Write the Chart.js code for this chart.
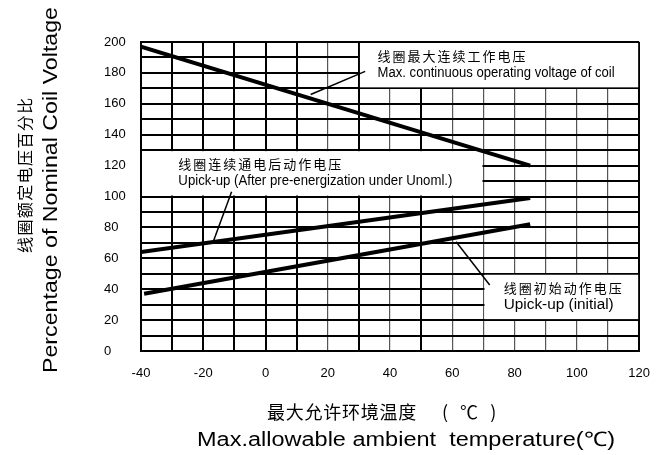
<!DOCTYPE html>
<html>
<head>
<meta charset="utf-8">
<script src="https://cdn.jsdelivr.net/npm/chart.js@4/dist/chart.umd.min.js"></script>
<style>
  html, body { margin: 0; padding: 0; background: #fff; }
</style>
</head>
<body>
<canvas id="myChart" width="665" height="455"></canvas>
<script>
// tick labels
const tempTicks = [-40, -20, 0, 20, 40, 60, 80, 100, 120];
const voltTicks = [0, 20, 40, 60, 80, 100, 120, 140, 160, 180, 200];

// curves
const maxTemp = [-40, 85];
const maxVolt = [197, 120];
const afterTemp = [-40, 85];
const afterVolt = [64, 99];
const initTemp = [-39, 85];
const initVolt = [37, 82];

// leader lines from the curves to their labels
const maxLeadTemp = [14.5, 32];
const maxLeadVolt = [166, 181];
const afterLeadTemp = [-16.8, -10.9];
const afterLeadVolt = [70.7, 103];
const initLeadTemp = [61.2, 72];
const initLeadVolt = [70.7, 42.7];

// label boxes
const boxNamesCn = ["线圈最大连续工作电压", "线圈连续通电后动作电压", "线圈初始动作电压"];
const boxNamesEn = [
  "Max. continuous operating voltage of coil",
  "Upick-up (After pre-energization under Unoml.)",
  "Upick-up (initial)",
];
const boxTempFrom = [30, -40, 70];
const boxTempTo = [120, 70, 120];
const boxVoltFrom = [170, 100, 20];
const boxVoltTo = [200, 130, 50];
const labelTemp = [36, -28, 76.5];

const ctx = document.getElementById("myChart");

function toPoints(xs, ys) {
  return xs.map((x, i) => ({ x: x, y: ys[i] }));
}

function spacedText(c, text, x, y, gap) {
  for (const ch of text) {
    c.fillText(ch, x, y);
    x += c.measureText(ch).width + gap;
  }
}

// draw text stretched/squeezed to a given width
function fitText(c, text, x, y, w, angle) {
  const m = c.measureText(text).width;
  c.save();
  c.translate(x, y);
  if (angle) c.rotate(angle);
  c.scale(w / m, 1);
  c.fillText(text, 0, 0);
  c.restore();
}

const cnFont = '"Noto Sans CJK SC", sans-serif';
const enFont = '"Liberation Sans", Arial, sans-serif';
const enWidths = [237, 274, 110];

const labelBoxes = {
  id: "labelBoxes",
  beforeDatasetsDraw(chart) {
    const c = chart.ctx;
    const x = chart.scales.x;
    const y = chart.scales.y;
    c.save();
    for (let i = 0; i < boxNamesCn.length; i++) {
      const l = x.getPixelForValue(boxTempFrom[i]);
      const r = x.getPixelForValue(boxTempTo[i]);
      const t = y.getPixelForValue(boxVoltTo[i]);
      const b = y.getPixelForValue(boxVoltFrom[i]);
      c.fillStyle = "#fff";
      c.fillRect(l + 1, t + 1, r - l - 2, b - t - 2);

      const tx = x.getPixelForValue(labelTemp[i]);
      c.fillStyle = "#000";
      c.textBaseline = "middle";
      c.textAlign = "left";
      c.font = "13px " + cnFont;
      spacedText(c, boxNamesCn[i], tx, t + 14, 2);
      c.font = "14px " + enFont;
      fitText(c, boxNamesEn[i], tx, t + 31, enWidths[i]);
    }
    c.restore();
  },
  afterDraw(chart) {
    const c = chart.ctx;
    c.save();
    c.fillStyle = "#000";
    c.textBaseline = "middle";
    // y axis titles
    c.save();
    c.translate(25, 253);
    c.rotate(-Math.PI / 2);
    c.textAlign = "left";
    c.font = "16px " + cnFont;
    spacedText(c, "线圈额定电压百分比", 0, 0, 1.4);
    c.restore();
    c.textAlign = "center";
    c.font = "21px " + enFont;
    fitText(c, "Percentage of Nominal Coil Voltage", 51, 190, 366, -Math.PI / 2);
    // x axis titles
    c.textAlign = "left";
    c.font = "18px " + cnFont;
    spacedText(c, "最大允许环境温度", 267, 412, 0.75);
    spacedText(c, "( ℃ )", 442, 412, 4);
    c.textAlign = "center";
    c.font = "20px " + enFont;
    fitText(c, "Max.allowable ambient  temperature(℃)", 406, 440, 418);
    c.restore();
  },
};

const thickTemps = [-40, -30, -20, -10, 0, 10, 30, 50, 120];

const chart = new Chart(ctx, {
  type: "scatter",
  data: {
    datasets: [
      { data: toPoints(maxLeadTemp, maxLeadVolt), borderWidth: 1.5 },
      { data: toPoints(afterLeadTemp, afterLeadVolt), borderWidth: 1.5 },
      { data: toPoints(initLeadTemp, initLeadVolt), borderWidth: 1.5 },
      { data: toPoints(maxTemp, maxVolt), borderWidth: 4 },
      { data: toPoints(afterTemp, afterVolt), borderWidth: 4 },
      { data: toPoints(initTemp, initVolt), borderWidth: 4 },
    ].map((d) => ({
      ...d,
      showLine: true,
      borderColor: "#000",
      pointRadius: 0,
      borderCapStyle: "butt",
    })),
  },
  options: {
    responsive: false,
    animation: false,
    layout: { padding: { left: 104, right: 24, top: 42, bottom: 0 } },
    plugins: {
      legend: { display: false },
      tooltip: { enabled: false },
    },
    scales: {
      x: {
        type: "linear",
        min: -40,
        max: 120,
        afterFit: (s) => {
          s.height = 104;
        },
        ticks: {
          stepSize: 10,
          autoSkip: false,
          maxRotation: 0,
          padding: 15,
          color: "#000",
          font: { family: enFont, size: 13 },
          callback: (v) => (tempTicks.includes(v) ? v : ""),
        },
        grid: {
          drawTicks: false,
          color: (c) => (c.tick && thickTemps.includes(c.tick.value) ? "#000" : "#555"),
          lineWidth: (c) => (c.tick && thickTemps.includes(c.tick.value) ? 2 : 1.2),
        },
        border: { display: true, color: "#000", width: 2 },
      },
      y: {
        min: 0,
        max: 200,
        afterFit: (s) => {
          s.width = 37;
        },
        ticks: {
          stepSize: 10,
          autoSkip: false,
          crossAlign: "far",
          color: "#000",
          font: { family: enFont, size: 13 },
          callback: (v) => (voltTicks.includes(v) ? v : ""),
        },
        grid: {
          drawTicks: false,
          color: "#000",
          lineWidth: 2,
        },
        border: { display: true, color: "#000", width: 2 },
      },
    },
  },
  plugins: [labelBoxes],
});
</script>
</body>
</html>
